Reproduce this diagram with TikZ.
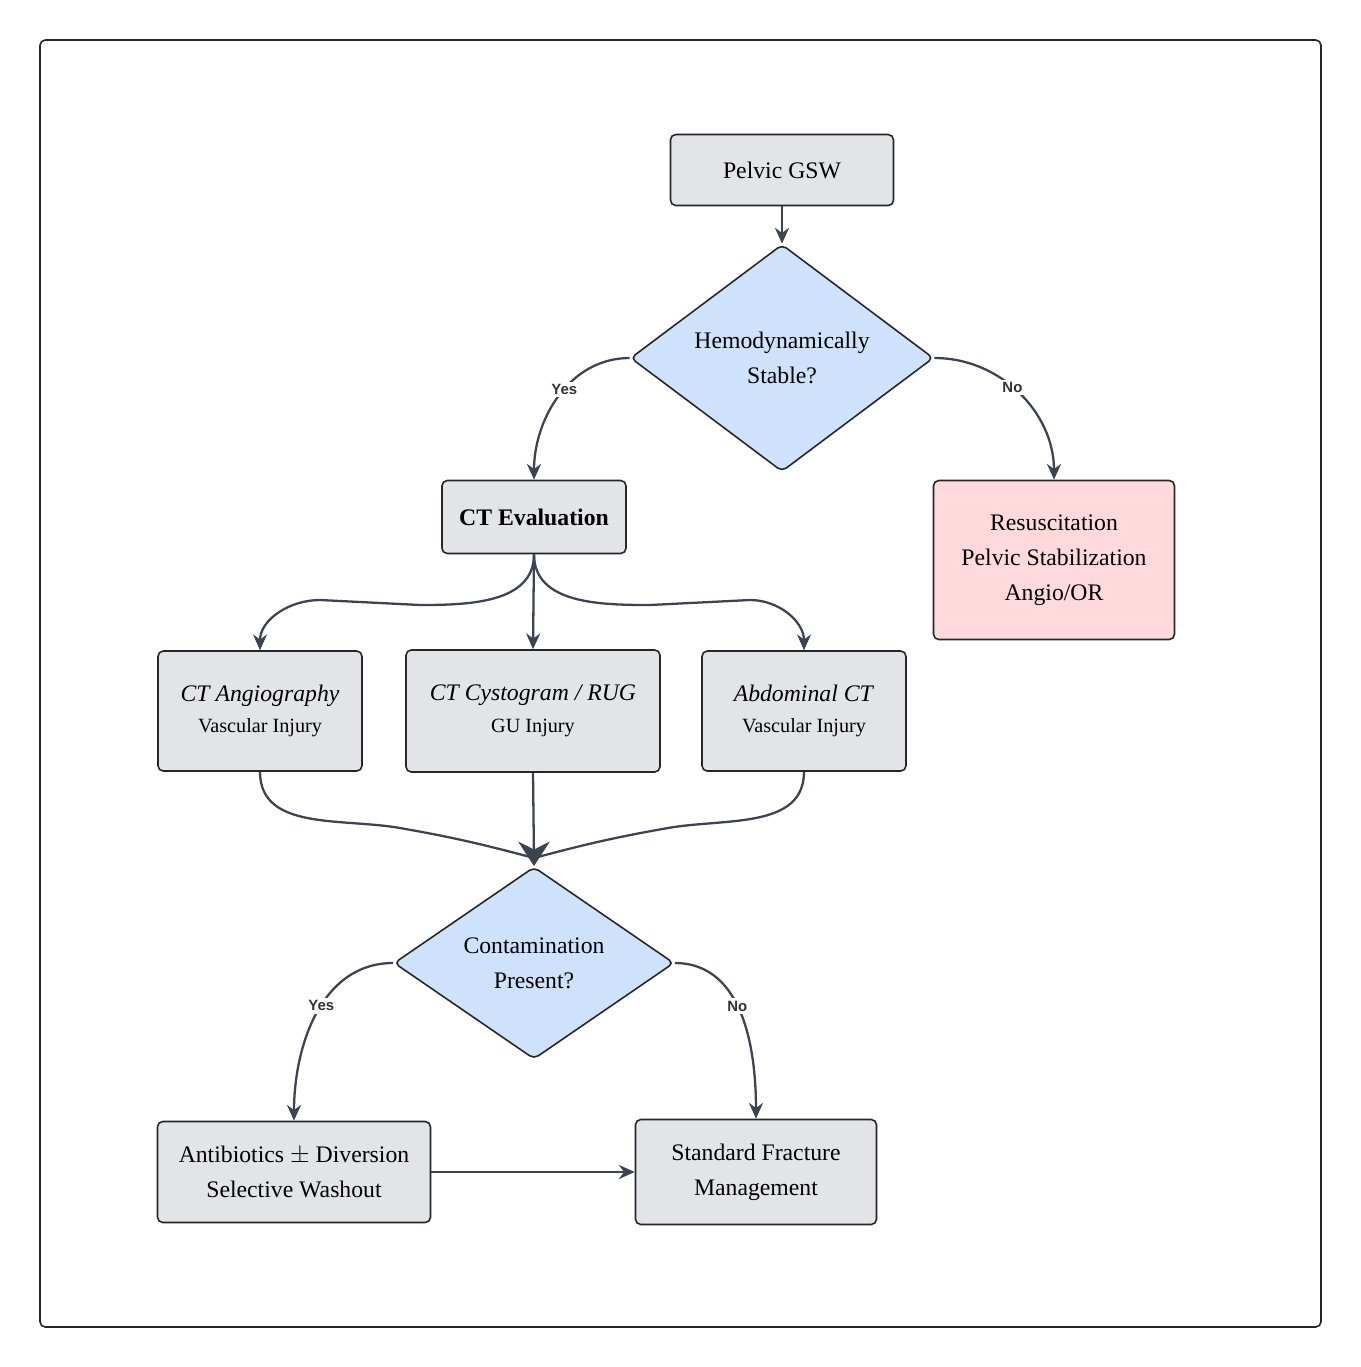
\documentclass[tikz,border=0pt]{standalone}
\usepackage{fontspec}
\setmainfont{Liberation Serif}
\setsansfont{Liberation Sans}
\usetikzlibrary{shapes.geometric, arrows.meta, positioning}
\definecolor{boxgray}{HTML}{E2E4E8}
\definecolor{qblue}{HTML}{CEE2FB}
\definecolor{alertpink}{HTML}{FFD9DB}
\definecolor{edgecol}{HTML}{3D4451}

\begin{document}
\begin{tikzpicture}[
    x=0.02cm, y=-0.02cm,
    font=\fontsize{13.5}{20}\selectfont,
    box/.style={rectangle, draw=black!85, line width=0.9pt, fill=boxgray, rounded corners=3pt, align=center, inner sep=0pt},
    decision/.style={diamond, draw=black!85, line width=0.9pt, fill=qblue, rounded corners=3pt, align=center, inner sep=0pt},
    arrow/.style={-{Stealth[length=9pt,width=8pt]}, line width=1.3pt, draw=edgecol},
    line/.style={line width=1.3pt, draw=edgecol},
    lbl/.style={fill=white, font=\sffamily\bfseries\fontsize{8.5}{10}\selectfont, text=black!80, inner sep=1.5pt},
    sub/.style={font=\fontsize{11.5}{14}\selectfont}
]
\useasboundingbox (0,0) rectangle (1361,1367);
\draw[black!85, line width=0.9pt, rounded corners=3pt] (40,40) rectangle (1321,1327);

% top part
\node[box, minimum width=223*0.02cm, minimum height=71*0.02cm] (gsw) at (782,170) {Pelvic GSW};
\node[decision, minimum width=303*0.02cm, minimum height=153*0.02cm] (stable) at (782,358) {Hemodynamically\\Stable?};
\node[box, minimum width=184*0.02cm, minimum height=73*0.02cm, font=\fontsize{13.5}{20}\selectfont\bfseries] (ct) at (534,517) {CT Evaluation};
\node[box, fill=alertpink, minimum width=241*0.02cm, minimum height=159*0.02cm] (resus) at (1054,560) {Resuscitation\\Pelvic Stabilization\\Angio/OR};

% imaging
\node[box, minimum width=204*0.02cm, minimum height=120*0.02cm] (angio) at (260,711) {\textit{CT Angiography}\\[-2pt]{\fontsize{11.5}{14}\selectfont Vascular Injury}};
\node[box, minimum width=254*0.02cm, minimum height=122*0.02cm] (cysto) at (533,711) {\textit{CT Cystogram / RUG}\\[-2pt]{\fontsize{11.5}{14}\selectfont GU Injury}};
\node[box, minimum width=204*0.02cm, minimum height=120*0.02cm] (abd) at (804,711) {\textit{Abdominal CT}\\[-2pt]{\fontsize{11.5}{14}\selectfont Vascular Injury}};

% contamination
\coordinate (merge) at (534,858);
\node[decision, minimum width=280*0.02cm, minimum height=178*0.02cm] (contam) at (534,963) {Contamination\\Present?};
\node[box, minimum width=273*0.02cm, minimum height=101*0.02cm] (abx) at (294,1172) {Antibiotics $\pm$ Diversion\\Selective Washout};
\node[box, minimum width=241*0.02cm, minimum height=105*0.02cm] (std) at (756,1172) {Standard Fracture\\Management};

\draw[arrow] (gsw) -- (stable);
\draw[arrow] (stable.west) to[out=180, in=90] node[lbl, pos=0.45] {Yes} (ct.north);
\draw[arrow] (stable.east) to[out=0, in=90] node[lbl, pos=0.45] {No} (resus.north);

\draw[arrow] (ct.south) to[out=-90, in=0] (420,605) -- (320,600) to[out=180, in=90] (angio.north);
\draw[arrow] (ct.south) -- (cysto.north);
\draw[arrow] (ct.south) to[out=-90, in=180] (650,605) -- (750,600) to[out=0, in=90] (abd.north);

\draw[line] (angio.south) to[out=-90, in=170] (400,828) to[out=-10, in=165] (merge);
\draw[line] (cysto.south) -- (merge);
\draw[line] (abd.south) to[out=-90, in=10] (668,828) to[out=190, in=15] (merge);
\draw[-{Stealth[length=14pt,width=18pt]}, line width=1.3pt, edgecol] (merge) -- (contam.north);

\draw[arrow] (contam.west) to[out=180, in=90] node[lbl, pos=0.45] {Yes} (abx.north);
\draw[arrow] (contam.east) to[out=0, in=90] node[lbl, pos=0.45] {No} (std.north);
\draw[arrow] (abx) -- (std);
\end{tikzpicture}
\end{document}
